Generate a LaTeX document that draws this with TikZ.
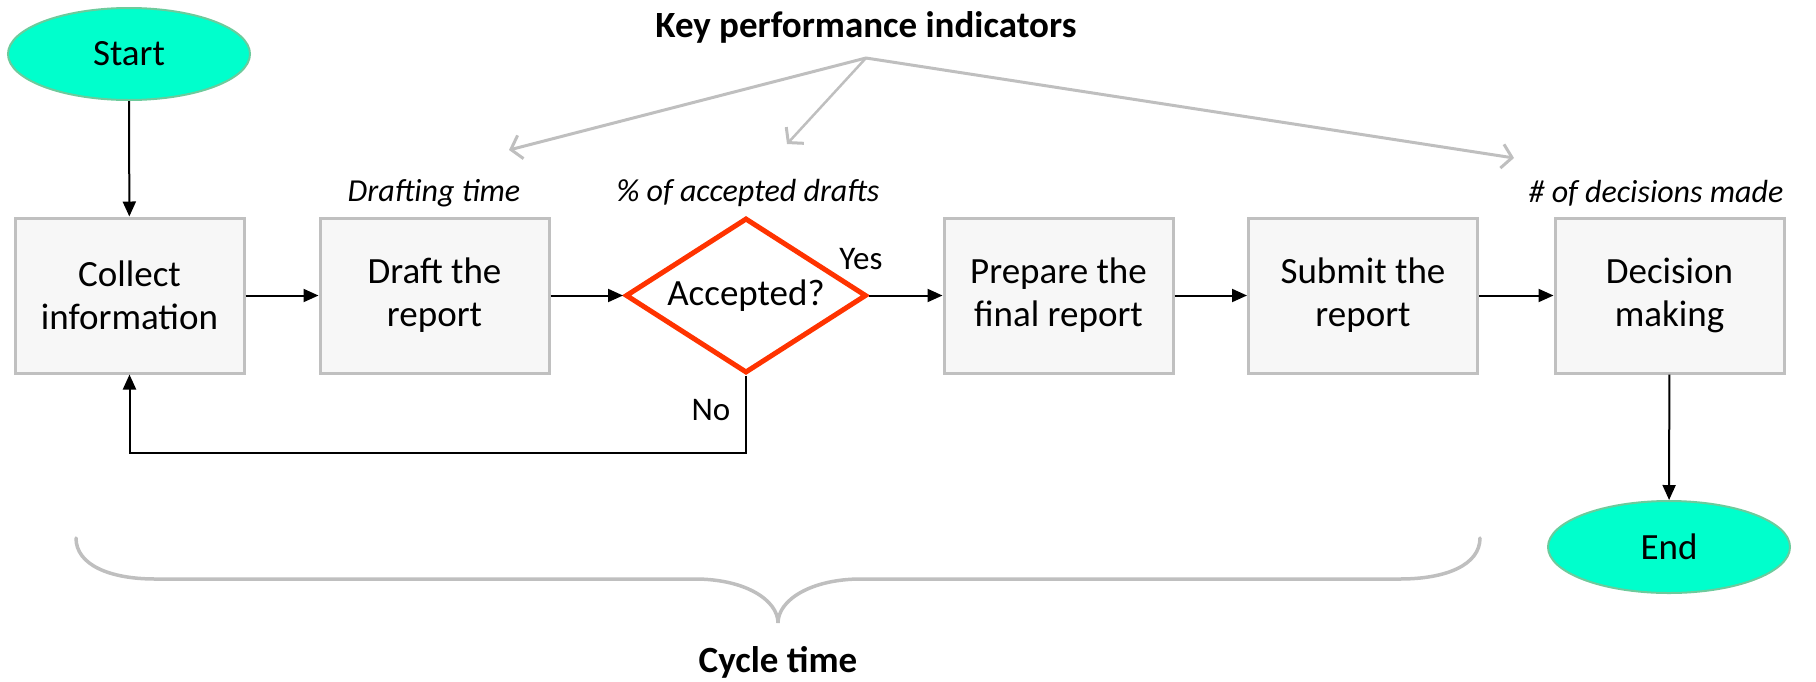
\documentclass[tikz,border=0pt]{standalone}
\usepackage{fontspec}
\setmainfont{Carlito}
\usetikzlibrary{shapes.geometric,arrows.meta}
\definecolor{termfill}{HTML}{00FFCC}
\definecolor{termline}{HTML}{6CCB9C}
\definecolor{boxfill}{HTML}{F7F7F7}
\definecolor{boxline}{HTML}{C0C0C0}
\definecolor{decline}{HTML}{FF3300}
\definecolor{kpigray}{HTML}{BFBFBF}
\begin{document}
\begin{tikzpicture}[x=1pt,y=-1pt,
  every node/.style={font=\fontsize{37}{43}\selectfont, text=black},
  terminal/.style={ellipse, fill=termfill, draw=termline, line width=2pt,
    minimum width=242pt, minimum height=92pt, inner sep=0pt},
  stepbox/.style={rectangle, fill=boxfill, draw=boxline, line width=3pt,
    minimum width=229pt, minimum height=155pt, align=center, inner sep=0pt},
  decision/.style={diamond, aspect=1.555, fill=white, draw=decline, line width=5pt,
    minimum width=241pt, minimum height=155pt, inner sep=0pt},
  flow/.style={draw=black, line width=2pt, -{Triangle[length=15pt,width=13pt]}},
  metric/.style={font=\fontsize{32}{38}\selectfont\itshape},
  branch/.style={font=\fontsize{33}{38}\selectfont},
  heading/.style={font=\fontsize{37}{42}\selectfont\bfseries},
  kpiarrow/.style={draw=kpigray, line width=3pt, line cap=round,
    -{Straight Barb[length=10pt,width=24pt,line width=3pt]}},
  brace/.style={draw=kpigray, line width=3.5pt, line cap=round}
]
\useasboundingbox (0,0) rectangle (1816,681);

% process steps
\node[terminal] (start) at (129,54) {Start};
\node[stepbox] (collect) at (129.5,295.5) {Collect\\information};
\node[stepbox] (draft) at (434.5,295.5) {Draft the\\report};
\node[decision] (acc) at (746,295.5) {Accepted?};
\node[stepbox] (prep) at (1058.5,295.5) {Prepare the\\final report};
\node[stepbox] (submit) at (1363,295.5) {Submit the\\report};
\node[stepbox] (decide) at (1669.5,295.5) {Decision\\making};
\node[terminal] (end) at (1669,547) {End};

% flow connectors
\draw[flow] (start) -- (collect);
\draw[flow] (collect) -- (draft);
\draw[flow] (draft) -- (acc);
\draw[flow] (acc) -- (prep);
\draw[flow] (prep) -- (submit);
\draw[flow] (submit) -- (decide);
\draw[flow] (decide) -- (end);
\draw[flow] (acc.south) -- ++(0,77) -| (collect.south);

% branch labels
\node[branch] (yes) at (861,259) {Yes};
\node[branch] (no) at (711,410) {No};

% measured indicators
\node[metric] (mdraft) at (434,193) {Drafting time};
\node[metric] (maccept) at (748,193) {\% of accepted drafts};
\node[metric] (mdecide) at (1656,193) {\# of decisions made};

% key performance indicators
\node[heading] (kpi) at (866,27) {Key performance indicators};
\coordinate (kpiroot) at (866,58);
\coordinate (kpidraft) at (509,150);
\coordinate (kpiaccept) at (787,144);
\coordinate (kpidecide) at (1514,158);
\draw[kpiarrow] (kpiroot) -- (kpidraft);
\draw[kpiarrow, line width=2.5pt] (kpiroot) -- (kpiaccept);
\draw[kpiarrow] (kpiroot) -- (kpidecide);

% cycle time brace
\draw[brace] (76,538) .. controls (76,565) and (110,579) .. (155,579)
  -- (695,579) .. controls (745,579) and (778,600) .. (778,623)
  .. controls (778,600) and (811,579) .. (861,579)
  -- (1400,579) .. controls (1446,579) and (1480,565) .. (1480,538);
\node[heading] (cycle) at (778,662) {Cycle time};
\end{tikzpicture}
\end{document}
